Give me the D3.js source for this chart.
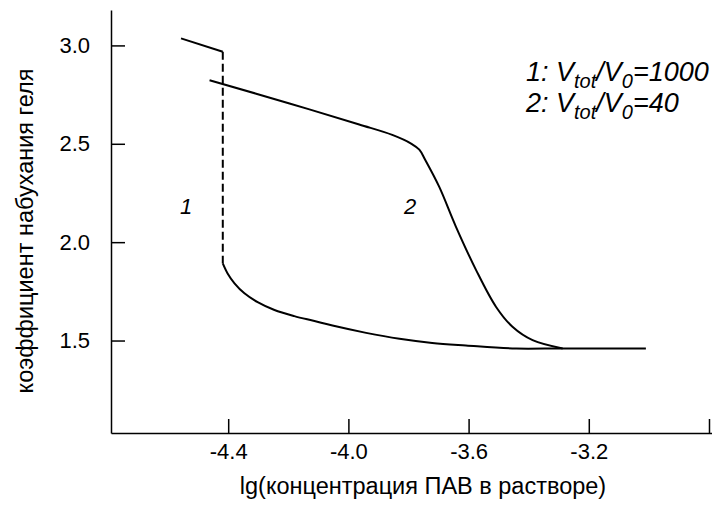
<!DOCTYPE html>
<html>
<head>
<meta charset="utf-8">
<title>swelling</title>
<script src="https://d3js.org/d3.v7.min.js"></script>
<style>
body { margin: 0; background: #fff; }
text { font-family: "Liberation Sans", Arial, Helvetica, sans-serif; fill: #000; }
.line { fill: none; stroke: #000; stroke-width: 2; }
.axis path, .axis line { stroke: #000; stroke-width: 1.5; }
</style>
</head>
<body>
<div id="chart"></div>
<script>
// curve 1 (V_tot/V_0 = 1000), upper branch before the jump
var c1TopX = [-4.557, -4.418],
    c1TopY = [3.036, 2.968];
// curve 1, lower branch after the jump
var c1BotX = [-4.418, -4.402, -4.379, -4.346, -4.302, -4.246, -4.180, -4.113, -4.053, -3.941, -3.830, -3.721, -3.609, -3.442, -3.287, -3.010],
    c1BotY = [1.892, 1.841, 1.791, 1.740, 1.695, 1.655, 1.624, 1.599, 1.576, 1.539, 1.509, 1.488, 1.475, 1.459, 1.460, 1.460];
// curve 2 (V_tot/V_0 = 40)
var c2X = [-4.462, -4.196, -3.964, -3.854, -3.790, -3.764, -3.745, -3.698, -3.642, -3.575, -3.509, -3.454, -3.387, -3.287],
    c2Y = [2.823, 2.705, 2.598, 2.545, 2.500, 2.470, 2.420, 2.282, 2.078, 1.858, 1.672, 1.570, 1.502, 1.460];

var xTicks = [-4.4, -4.0, -3.6, -3.2, -2.8],
    xTickLabels = ['-4.4', '-4.0', '-3.6', '-3.2', ''],
    yTicks = [1.5, 2.0, 2.5, 3.0],
    yTickLabels = ['1.5', '2.0', '2.5', '3.0'];

var w = 712, h = 517;

var x = d3.scaleLinear().domain([-4.79, -2.79]).range([111, 712]),
    y = d3.scaleLinear().domain([1.03, 3.18]).range([433, 10]);

var svg = d3.select('#chart').append('svg')
    .attr('width', w).attr('height', h);

var xAxis = d3.axisBottom(x)
    .tickValues(xTicks)
    .tickFormat(function(d, i) { return xTickLabels[i]; })
    .tickSizeInner(-14).tickSizeOuter(0).tickPadding(10);

var yAxis = d3.axisLeft(y)
    .tickValues(yTicks)
    .tickFormat(function(d, i) { return yTickLabels[i]; })
    .tickSizeInner(-14).tickSizeOuter(0).tickPadding(21);

svg.append('g').attr('class', 'axis')
    .attr('transform', 'translate(0,433)')
    .call(xAxis)
    .selectAll('text').style('font-size', '22px');

svg.append('g').attr('class', 'axis')
    .attr('transform', 'translate(111,0)')
    .call(yAxis)
    .selectAll('text').style('font-size', '22px');

var line = d3.line()
    .x(function(d) { return x(d[0]); })
    .y(function(d) { return y(d[1]); });

var smooth = d3.line()
    .x(function(d) { return x(d[0]); })
    .y(function(d) { return y(d[1]); })
    .curve(d3.curveCatmullRom.alpha(0.5));

function pts(xs, ys) { return xs.map(function(v, i) { return [v, ys[i]]; }); }

svg.append('path').attr('class', 'line').attr('d', line(pts(c1TopX, c1TopY)));

// jump of curve 1
svg.append('path').attr('class', 'line')
    .attr('stroke-dasharray', '8,4')
    .attr('d', line([[c1TopX[1], c1TopY[1]], [c1BotX[0], c1BotY[0]]]));

svg.append('path').attr('class', 'line').attr('d', smooth(pts(c1BotX, c1BotY)));
svg.append('path').attr('class', 'line').attr('d', smooth(pts(c2X, c2Y)));

// curve numbers
svg.append('text').attr('x', 180).attr('y', 214)
    .style('font-size', '22px').style('font-style', 'italic').text('1');
svg.append('text').attr('x', 404).attr('y', 214)
    .style('font-size', '22px').style('font-style', 'italic').text('2');

// legend
var legend = [['1: ', '=1000'], ['2: ', '=40']];
legend.forEach(function(l, i) {
  var t = svg.append('text')
      .attr('x', 526).attr('y', 81 + i * 31)
      .style('font-size', '27px').style('font-style', 'italic');
  t.append('tspan').text(l[0] + 'V');
  t.append('tspan').attr('dy', 7).style('font-size', '20px').text('tot');
  t.append('tspan').attr('dy', -7).text('/V');
  t.append('tspan').attr('dy', 7).style('font-size', '20px').text('0');
  t.append('tspan').attr('dy', -7).text(l[1]);
});

// axis titles
svg.append('text')
    .attr('x', 423).attr('y', 494)
    .attr('text-anchor', 'middle')
    .style('font-size', '23.5px')
    .text('lg(концентрация ПАВ в растворе)');

svg.append('text')
    .attr('transform', 'translate(33,231) rotate(-90)')
    .attr('text-anchor', 'middle')
    .style('font-size', '23.5px')
    .text('коэффициент набухания геля');
</script>
</body>
</html>
